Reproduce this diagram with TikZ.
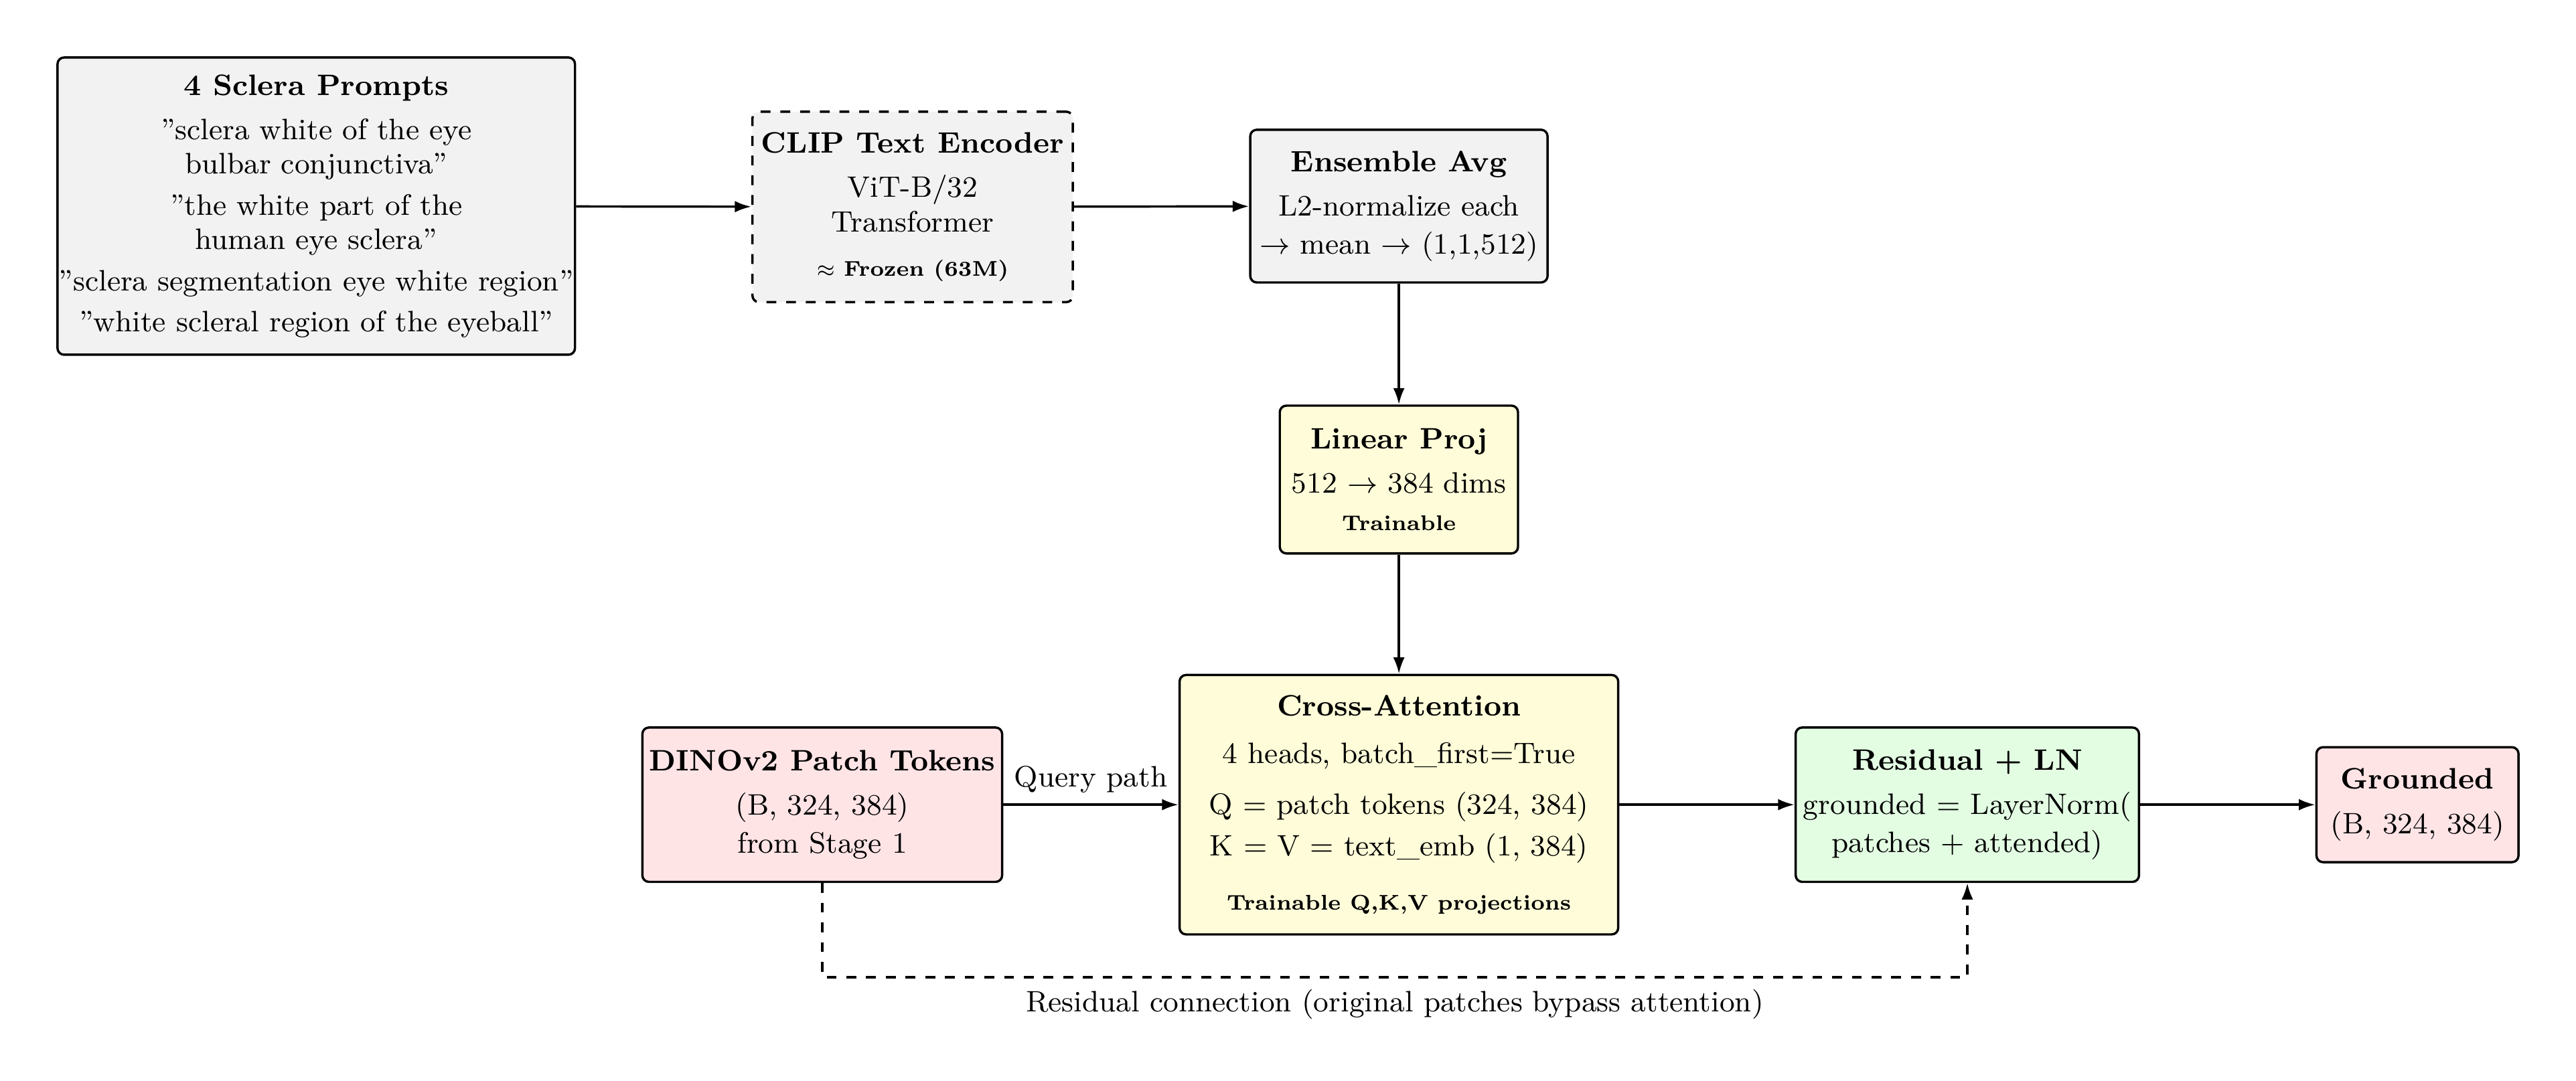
\documentclass[tikz,border=0pt]{standalone}
\usetikzlibrary{arrows.meta}
\definecolor{cgray}{HTML}{F2F2F2}
\definecolor{cyel}{HTML}{FFFDD9}
\definecolor{cpink}{HTML}{FFE4E6}
\definecolor{cgreen}{HTML}{E3FDE3}
\newcommand{\smb}[1]{{\fontsize{6.5}{8}\selectfont\textbf{#1}}}
\begin{document}
\begin{tikzpicture}[x=0.5pt,y=-0.5pt,
  box/.style={draw,line width=0.7pt,rounded corners=2pt,align=center,inner sep=0pt,font=\fontsize{9}{10.5}\selectfont},
  arr/.style={-{Latex[length=5pt,width=3.5pt]},line width=0.7pt}]
\useasboundingbox (0,0) rectangle (1568,658);
\node[box,fill=cgray,minimum width=157.5pt,minimum height=90.5pt] (pr) at (192.5,125.5)
 {\textbf{4 Sclera Prompts}\\[3pt]
 "sclera white of the eye\\ bulbar conjunctiva"\\[2pt]
 "the white part of the\\ human eye sclera"\\[2pt]
 "sclera segmentation eye white region"\\[2pt]
 "white scleral region of the eyeball"};
\node[box,fill=cgray,dashed,minimum width=97.5pt,minimum height=58pt] (clip) at (555.5,126)
 {\textbf{CLIP Text Encoder}\\[3pt] ViT-B/32\\ Transformer\\[3pt] {\fontsize{6.5}{8}\selectfont$\approx$ \textbf{Frozen (63M)}}};
\node[box,fill=cgray,minimum width=90.5pt,minimum height=46.5pt] (ens) at (851.5,125.5)
 {\textbf{Ensemble Avg}\\[3pt] L2-normalize each\\[1pt] $\rightarrow$ mean $\rightarrow$ (1,1,512)};
\node[box,fill=cyel,minimum width=72.5pt,minimum height=45pt] (lin) at (851.5,292)
 {\textbf{Linear Proj}\\[3pt] 512 $\rightarrow$ 384 dims\\[1pt] \smb{Trainable}};
\node[box,fill=cyel,minimum width=133.5pt,minimum height=79pt] (ca) at (851.5,490)
 {\textbf{Cross-Attention}\\[4pt] 4 heads, batch\_first=True\\[5pt] Q = patch tokens (324, 384)\\[2pt] K = V = text\_emb (1, 384)\\[6pt] \smb{Trainable Q,K,V projections}};
\node[box,fill=cpink,minimum width=109.5pt,minimum height=47pt] (dino) at (500.5,490)
 {\textbf{DINOv2 Patch Tokens}\\[3pt] (B, 324, 384)\\[1pt] from Stage 1};
\node[box,fill=cgreen,minimum width=104.5pt,minimum height=47pt] (res) at (1197.5,490)
 {\textbf{Residual + LN}\\[3pt] grounded = LayerNorm(\\[1pt] patches + attended)};
\node[box,fill=cpink,minimum width=61.5pt,minimum height=35pt] (gr) at (1471.5,490)
 {\textbf{Grounded}\\[3pt] (B, 324, 384)};
\draw[arr] (pr) -- (clip);
\draw[arr] (clip) -- (ens);
\draw[arr] (ens) -- (lin);
\draw[arr] (lin) -- (ca);
\draw[arr] (dino) -- node[above,font=\fontsize{9}{10.5}\selectfont]{Query path} (ca);
\draw[arr] (ca) -- (res);
\draw[arr] (res) -- (gr);
\coordinate (d1) at (500.5,595);
\coordinate (d2) at (1197.5,595);
\draw[arr,dashed] (dino.south) -- (d1) -- node[below,font=\fontsize{9}{10.5}\selectfont]{Residual connection (original patches bypass attention)} (d2) -- (res.south);
\end{tikzpicture}
\end{document}
